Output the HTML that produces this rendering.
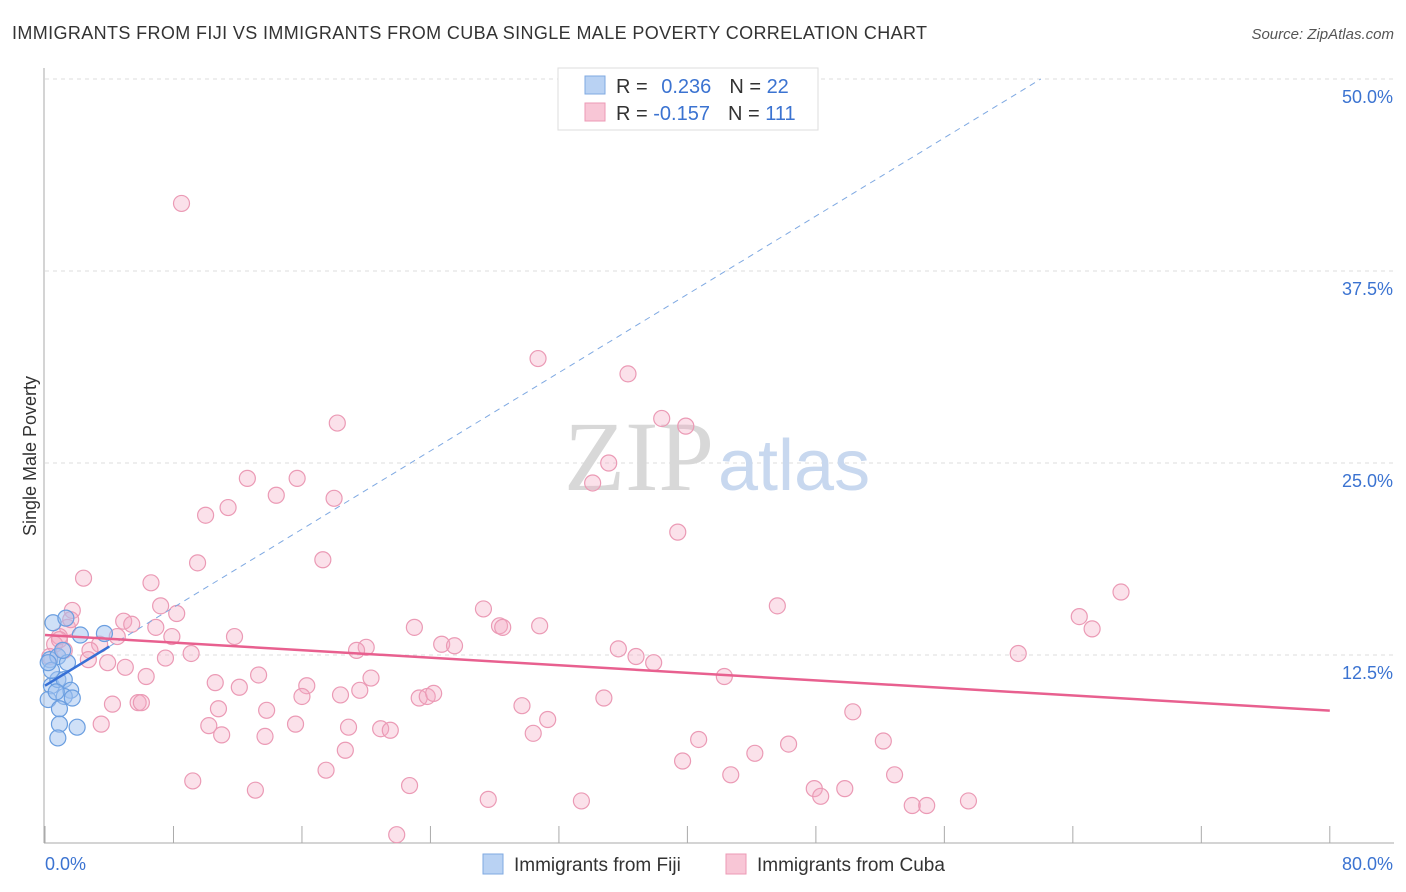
<!DOCTYPE html>
<html><head><meta charset="utf-8"><style>
body{margin:0;background:#fff;font-family:"Liberation Sans",sans-serif;}
svg{display:block}
</style></head><body>
<svg id="c" width="1406" height="892" xmlns="http://www.w3.org/2000/svg">
<text x="12" y="39" font-size="18" fill="#333" textLength="915" lengthAdjust="spacing">IMMIGRANTS FROM FIJI VS IMMIGRANTS FROM CUBA SINGLE MALE POVERTY CORRELATION CHART</text>
<text x="1394" y="39" font-size="15" fill="#555" font-style="italic" text-anchor="end">Source: ZipAtlas.com</text>
<text x="36" y="456" font-size="18" fill="#333" transform="rotate(-90 36 456)" text-anchor="middle">Single Male Poverty</text>
<g id="grid"></g>
<text x="714" y="490" font-size="100" font-family="Liberation Serif,serif" fill="#d8d8d8" text-anchor="end">ZIP</text>
<text x="718" y="490" font-size="72" fill="#c8d8ef">atlas</text>
<g id="pts"></g>
<g id="lines"></g>
<g>
<rect x="558" y="68" width="260" height="62" fill="#fff" stroke="#ddd"/>
<rect x="585" y="76" width="20" height="18" fill="#b9d2f3" stroke="#7fa9e2"/>
<rect x="585" y="103" width="20" height="18" fill="#f8c6d6" stroke="#ec9ab5"/>
<text x="616" y="93" font-size="20" fill="#333">R = <tspan fill="#3b73d1" dx="8">0.236</tspan><tspan dx="18" fill="#333">N = </tspan><tspan fill="#3b73d1">22</tspan></text>
<text x="616" y="120" font-size="20" fill="#333">R = <tspan fill="#3b73d1">-0.157</tspan><tspan dx="18" fill="#333">N = </tspan><tspan fill="#3b73d1">111</tspan></text>
</g>
<g>
<rect x="483" y="854" width="20" height="20" fill="#b9d2f3" stroke="#7fa9e2"/>
<text x="514" y="871" font-size="19" fill="#333">Immigrants from Fiji</text>
<rect x="726" y="854" width="20" height="20" fill="#f8c6d6" stroke="#ec9ab5"/>
<text x="757" y="871" font-size="19" fill="#333">Immigrants from Cuba</text>
</g>
</svg>
<script>
const yTicks=[12.5,25,37.5,50];
const yTickLabels=["12.5%","25.0%","37.5%","50.0%"];
const xTicks=[0,8,16,24,32,40,48,56,64,72,80];
const fijiX=[0.5,1.3,2.2,3.7,0.3,0.8,1.4,0.4,0.8,1.2,1.6,1.2,1.7,0.2,0.9,0.9,2.0,0.8,0.4,1.1,0.2,0.7];
const fijiY=[14.6,14.9,13.8,13.9,12.2,12.4,12.0,10.5,10.9,10.9,10.2,9.8,9.7,9.6,9.0,8.0,7.8,7.1,11.5,12.8,12.0,10.1];
const cubaX=[8.5,30.7,36.3,18.2,38.4,39.9,35.1,34.1,12.6,15.7,14.4,18.0,10.0,11.4,39.4,17.3,9.5,2.4,6.6,67.0,7.2,8.2,27.3,45.6,1.7,4.9,5.4,64.4,28.3,28.5,30.8,23.0,65.2,1.4,6.9,3.4,11.8,4.5,7.9,0.9,0.6,24.7,25.5,20.0,19.4,35.7,36.8,37.9,9.1,7.5,60.6,3.9,5.0,6.3,13.3,42.3,10.6,12.1,16.3,19.6,20.3,18.4,16.0,23.3,23.8,24.2,34.8,4.2,5.8,6.0,10.8,13.8,29.7,50.3,10.2,15.6,18.9,20.9,21.5,3.5,31.3,11.0,13.7,30.4,40.7,46.3,52.2,18.7,44.2,39.7,17.5,42.7,52.9,9.2,22.7,47.9,49.8,13.1,48.3,27.6,33.4,54.0,54.9,57.5,21.9,0.9,1.2,2.8,0.3,2.7,1.6];
const cubaY=[41.9,31.8,30.8,27.6,27.9,27.4,25.0,23.7,24.0,24.0,22.9,22.7,21.6,22.1,20.5,18.7,18.5,17.5,17.2,16.6,15.7,15.2,15.5,15.7,15.4,14.7,14.5,15.0,14.4,14.3,14.4,14.3,14.2,14.3,14.3,13.2,13.7,13.7,13.7,13.7,13.2,13.2,13.1,13.0,12.8,12.9,12.4,12.0,12.6,12.3,12.6,12.0,11.7,11.1,11.2,11.1,10.7,10.4,10.5,10.2,11.0,9.9,9.8,9.7,9.8,10.0,9.7,9.3,9.4,9.4,9.0,8.9,9.2,8.8,7.9,8.0,7.8,7.7,7.6,8.0,8.3,7.3,7.2,7.4,7.0,6.7,6.9,6.3,6.1,5.6,5.0,4.7,4.7,4.3,4.0,3.8,3.8,3.7,3.3,3.1,3.0,2.7,2.7,3.0,0.8,13.5,12.8,12.8,12.4,12.2,14.8];
const fijiTrend=[10.5,0.637];
const cubaTrend=[13.8,-0.0615];
const NS="http://www.w3.org/2000/svg";
const sx=v=>45+v*16.06, sy=v=>847-v*15.36;
function mk(t,a,p){const e=document.createElementNS(NS,t);for(const k in a)e.setAttribute(k,a[k]);p.appendChild(e);return e;}
const grid=document.getElementById('grid');
yTicks.forEach((t,i)=>{
 const l=mk('line',{x1:45,x2:1394,y1:sy(t),y2:sy(t),stroke:'#ddd','stroke-dasharray':'4 4'},grid);
 
 
 const tx=mk('text',{x:1393,y:sy(t)+24,'font-size':18,fill:'#3b73d1','text-anchor':'end'},grid);
 tx.textContent=yTickLabels[i];
 
 
});
const ax=mk('line',{x1:44,x2:44,y1:68,y2:843,stroke:'#aaa'},grid);


const bx=mk('line',{x1:44,x2:1394,y1:843,y2:843,stroke:'#aaa'},grid);


xTicks.forEach(t=>{const l=mk('line',{x1:sx(t),x2:sx(t),y1:826,y2:843,stroke:'#aaa'},grid);
 
 });
[[0,'0.0%','start',45],[80,'80.0%','end',1393]].forEach(a=>{const tx=mk('text',{x:a[3],y:870,'font-size':18,fill:'#3b73d1','text-anchor':a[2]},grid);tx.textContent=a[1];
 
 });
const pts=document.getElementById('pts');
cubaX.forEach((x,i)=>{const c=mk('circle',{cx:sx(x),cy:sy(cubaY[i]),r:8,fill:'rgba(244,170,196,0.35)',stroke:'#eb9ab5','stroke-width':1.2},pts);
 
 });
fijiX.forEach((x,i)=>{const c=mk('circle',{cx:sx(x),cy:sy(fijiY[i]),r:8,fill:'rgba(160,194,240,0.5)',stroke:'#6a9ee0','stroke-width':1.2},pts);
 
 });
const lines=document.getElementById('lines');
const fEnd=(50-fijiTrend[0])/fijiTrend[1];
const fd=mk('line',{x1:sx(4),y1:sy(fijiTrend[0]+4*fijiTrend[1]),x2:sx(fEnd),y2:sy(50),stroke:'#7fa9e2','stroke-dasharray':'6 5','stroke-width':1},lines);


const fs=mk('line',{x1:sx(0),y1:sy(fijiTrend[0]),x2:sx(4),y2:sy(fijiTrend[0]+4*fijiTrend[1]),stroke:'#3670d6','stroke-width':2.5},lines);


const cl=mk('line',{x1:sx(0),y1:sy(cubaTrend[0]),x2:sx(80),y2:sy(cubaTrend[0]+80*cubaTrend[1]),stroke:'#e8608f','stroke-width':2.5},lines);


</script>
</body></html>
